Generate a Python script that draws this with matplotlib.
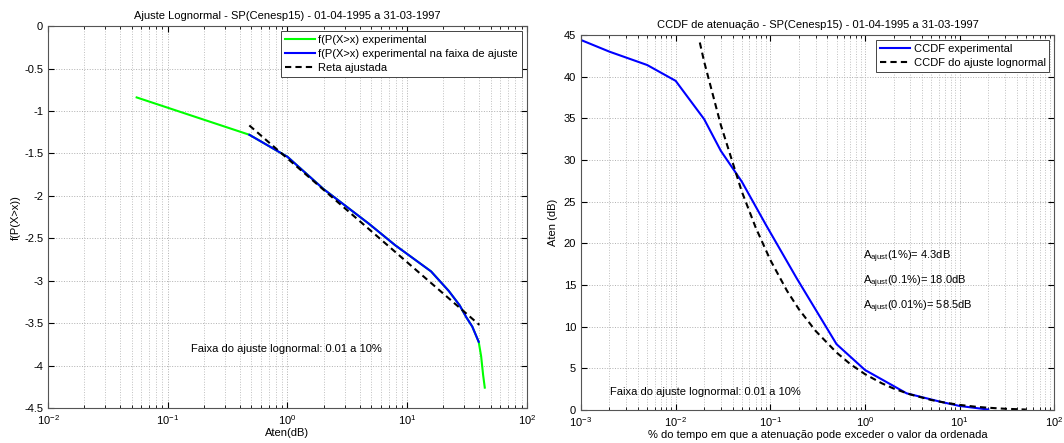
"""
Lognormal fit of rain attenuation - SP(Cenesp15)
"""

import matplotlib
matplotlib.use("Agg")
import matplotlib.pyplot as plt
from matplotlib.ticker import LogLocator, FixedLocator, FuncFormatter, NullFormatter

plt.rcParams['font.family'] = ['Liberation Sans', 'DejaVu Sans']
plt.rcParams['mathtext.fontset'] = 'custom'
plt.rcParams['mathtext.rm'] = 'Liberation Sans'
plt.rcParams['mathtext.it'] = 'Liberation Sans'
plt.rcParams['axes.unicode_minus'] = False
plt.rcParams['font.size'] = 8

# experimental CCDF: % of time exceeded, attenuation (dB), normal quantile of P
exp_pct = [0.001, 0.002, 0.005, 0.01, 0.02, 0.03, 0.05, 0.09, 0.19, 0.5, 1.0, 2.75, 6.2, 10, 20]
exp_aten = [44.4, 43.0, 41.4, 39.5, 34.9, 31.1, 27.4, 22.2, 15.8, 7.9, 4.8, 2.0, 1.0, 0.48, 0.055]
exp_z = [-4.26, -4.11, -3.89, -3.72, -3.54, -3.43, -3.29, -3.12, -2.89, -2.58, -2.33, -1.92, -1.54, -1.28, -0.84]

# points inside the fitting range (0.01 a 10%)
fit_range_aten = [39.5, 34.9, 31.1, 27.4, 22.2, 15.8, 7.9, 4.8, 2.0, 1.0, 0.48]
fit_range_z = [-3.72, -3.54, -3.43, -3.29, -3.12, -2.89, -2.58, -2.33, -1.92, -1.54, -1.28]

# fitted straight line
line_aten = [0.48, 40]
line_z = [-1.17, -3.52]

# CCDF of the lognormal fit
fit_pct = [0.018, 0.02, 0.03, 0.05, 0.07, 0.1, 0.15, 0.2, 0.3, 0.5, 0.7, 1, 1.5, 2, 3, 5, 7, 10, 15, 20, 30, 50]
fit_aten = [44.1, 41.8, 34.2, 26.2, 21.9, 18.0, 14.3, 12.1, 9.5, 6.9, 5.5, 4.3, 3.21, 2.58, 1.87,
            1.20, 0.88, 0.61, 0.38, 0.27, 0.15, 0.055]

a_ajust = [("1%", 4.3), ("0.1%", 18.0), ("0.01%", 58.5)]

fig = plt.figure(figsize=(10.64, 4.43), dpi=100)
ax1 = fig.add_axes([0.0451, 0.079, 0.4502, 0.862])
ax2 = fig.add_axes([0.546, 0.0745, 0.445, 0.8465])


def matlab_style(ax):
    ax.grid(True, which='major', linestyle=':', color='#b0b0b0', linewidth=0.7)
    ax.grid(True, which='minor', axis='x', linestyle=':', color='#c0c0c0', linewidth=0.7)
    ax.tick_params(which='both', direction='in', top=True, right=True, labelsize=8)
    ax.tick_params(which='major', length=4)
    ax.tick_params(which='minor', length=2)
    ax.xaxis.set_minor_locator(LogLocator(base=10, subs=range(2, 10)))
    ax.xaxis.set_minor_formatter(NullFormatter())
    for s in ax.spines.values():
        s.set_color('#555555')
        s.set_linewidth(0.8)


def boxed_legend(ax):
    leg = ax.legend(loc='upper right', fancybox=False, edgecolor='#444444', framealpha=1,
                    borderaxespad=0.45, handlelength=2.7, labelspacing=0.35, borderpad=0.35,
                    handletextpad=0.3, fontsize=8)
    leg.get_frame().set_linewidth(0.7)


# left: linearised fit
ax1.semilogx(exp_aten, exp_z, color=(0, 1, 0), linewidth=1.5, label='f(P(X>x) experimental')
ax1.semilogx(fit_range_aten, fit_range_z, color=(0, 0, 1), linewidth=1.5,
             label='f(P(X>x) experimental na faixa de ajuste')
ax1.semilogx(line_aten, line_z, 'k--', linewidth=1.5, dashes=(3, 2), label='Reta ajustada')
ax1.set_xlim(1e-2, 1e2)
ax1.set_ylim(-4.5, 0)
ax1.yaxis.set_major_locator(FixedLocator([-4.5, -4, -3.5, -3, -2.5, -2, -1.5, -1, -0.5, 0]))
ax1.yaxis.set_major_formatter(FuncFormatter(lambda v, p: '%g' % v))
matlab_style(ax1)
ax1.set_title('Ajuste Lognormal - SP(Cenesp15) - 01-04-1995 a 31-03-1997', fontsize=8, pad=5)
ax1.set_xlabel('Aten(dB)', labelpad=1)
ax1.set_ylabel('f(P(X>x))', labelpad=2)
ax1.text(0.156, -3.8, 'Faixa do ajuste lognormal: 0.01 a 10%', va='center')
boxed_legend(ax1)

# right: CCDF
ax2.semilogx(exp_pct, exp_aten, color=(0, 0, 1), linewidth=1.5, label='CCDF experimental')
ax2.semilogx(fit_pct, fit_aten, 'k--', linewidth=1.5, dashes=(3, 2), label='CCDF do ajuste lognormal')
ax2.set_xlim(1e-3, 1e2)
ax2.set_ylim(0, 45)
ax2.yaxis.set_major_locator(FixedLocator(range(0, 46, 5)))
matlab_style(ax2)
ax2.set_title('CCDF de atenuação - SP(Cenesp15) - 01-04-1995 a 31-03-1997', fontsize=8, pad=5)
ax2.set_xlabel('% do tempo em que a atenuação pode exceder o valor da ordenada', labelpad=1)
ax2.set_ylabel('Aten (dB)', labelpad=4)
for i, (p, v) in enumerate(a_ajust):
    ax2.text(0.95, 18.4 - 3.0 * i, r'A$_{\mathrm{ajust}}$(%s)= %.1fdB' % (p, v), va='center')
ax2.text(0.00205, 2.2, 'Faixa do ajuste lognormal: 0.01 a 10%', va='center')
boxed_legend(ax2)

fig.savefig('out.png', dpi=100)
